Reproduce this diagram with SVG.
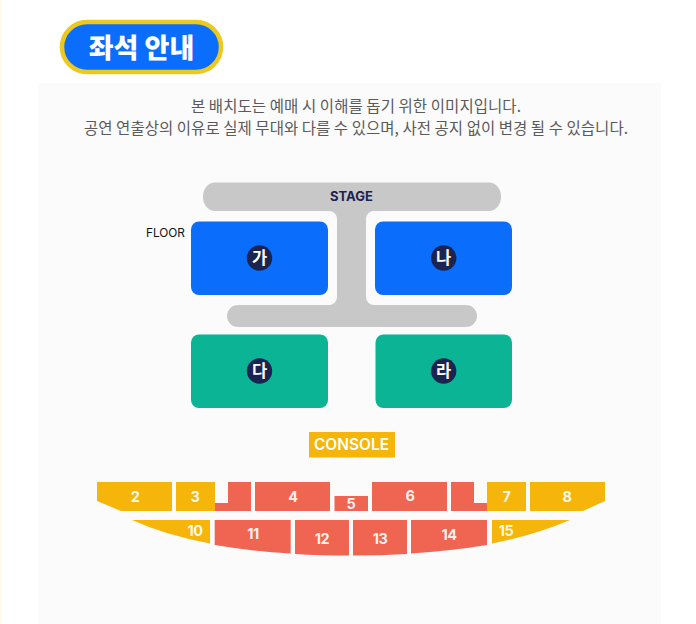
<svg xmlns="http://www.w3.org/2000/svg" width="696" height="624" viewBox="0 0 696 624">
<style>
.k{font-family:"Noto Sans CJK KR","Noto Sans",sans-serif}
.l{font-family:"Inter","Noto Sans",sans-serif}
.note{font-size:15.500px;fill:#5a5a5a;text-anchor:middle}
.b{fill:#0a6dfb}.g{fill:#0cb496}.y{fill:#f5b50a}.r{fill:#ef6551}
.c{fill:#1b2450}
.cl{font-size:16.500px;font-weight:700;fill:#fff;text-anchor:middle}
.n{font-size:14.500px;font-weight:700;fill:#fff;text-anchor:middle;letter-spacing:-.5px;fill-opacity:.93}
</style>
<rect width="696" height="624" fill="#fff"/>
<rect x="0" y="0" width="2" height="624" fill="#fffbe6"/>
<rect x="38" y="83" width="623" height="541" fill="#fbfbfb"/>
<g id="title">
<rect x="62" y="22" width="159" height="50" rx="25" fill="#0a6dfb" stroke="#edc81f" stroke-width="4.500"/>
<text x="141.500" y="57.500" class="k" font-size="27" font-weight="900" fill="#fff" text-anchor="middle">좌석 안내</text>
</g>
<g id="notice">
<text x="356" y="111.500" class="k note" textLength="330" lengthAdjust="spacing">본 배치도는 예매 시 이해를 돕기 위한 이미지입니다.</text>
<text x="356" y="133.500" class="k note" textLength="544" lengthAdjust="spacing">공연 연출상의 이유로 실제 무대와 다를 수 있으며, 사전 공지 없이 변경 될 수 있습니다.</text>
</g>
<g id="stage">
<path fill="#c9c8c9" d="M215 182.500H489a12 14 0 0 1 12 14a12 14 0 0 1-12 14.500H374a8 8 0 0 0-8 8V297a8 8 0 0 0 8 8H466a11 11 0 0 1 0 22H238a11 11 0 0 1 0-22H329a8 8 0 0 0 8-8V219a8 8 0 0 0-8-8H215a12 14 0 0 1-12-14.500a12 14 0 0 1 12-14z"/>
<text x="351.500" y="201" class="l" font-size="13" font-weight="700" fill="#1b2450" text-anchor="middle">STAGE</text>
</g>
<text id="floor-label" x="165.500" y="237" class="l" font-size="11.800" font-weight="400" fill="#111" text-anchor="middle">FLOOR</text>
<g id="ga"><rect class="b" x="191" y="221.500" width="137" height="73.500" rx="8"/><circle class="c" cx="259.500" cy="258" r="12.700"/><text class="k cl" x="259.500" y="264">가</text></g>
<g id="na"><rect class="b" x="375" y="221.500" width="137" height="73.500" rx="8"/><circle class="c" cx="443.700" cy="258" r="12.700"/><text class="k cl" x="443.700" y="264">나</text></g>
<g id="da"><rect class="g" x="191" y="334.500" width="137" height="73.500" rx="8"/><circle class="c" cx="259.500" cy="371" r="12.700"/><text class="k cl" x="259.500" y="377">다</text></g>
<g id="ra"><rect class="g" x="375.500" y="334.500" width="136.500" height="73.500" rx="8"/><circle class="c" cx="443.700" cy="371" r="12.700"/><text class="k cl" x="443.700" y="377">라</text></g>
<g id="console"><rect class="y" x="309" y="432" width="86" height="25.500"/><text class="l" x="351.500" y="450" font-size="15.500" font-weight="600" fill="#fff" text-anchor="middle">CONSOLE</text></g>
<g id="s2"><path class="y" d="M97 482H172V511H121L97 501z"/><text class="l n" x="135" y="502">2</text></g>
<g id="s3"><rect class="y" x="176" y="482" width="39" height="29"/><text class="l n" x="195" y="502">3</text></g>
<path id="sL" class="r" d="M228 482H251V511H215V503H228z"/>
<g id="s4"><rect class="r" x="255" y="482" width="75" height="29"/><text class="l n" x="293" y="502">4</text></g>
<g id="s5"><rect class="r" x="334.500" y="496" width="33.500" height="15"/><text class="l n" x="351" y="509">5</text></g>
<g id="s6"><rect class="r" x="372" y="482" width="75" height="29"/><text class="l n" x="410" y="501">6</text></g>
<path id="sR" class="r" d="M451 482H474V503H487V511H451z"/>
<g id="s7"><rect class="y" x="487" y="482" width="39" height="29"/><text class="l n" x="506.500" y="502">7</text></g>
<g id="s8"><path class="y" d="M530 482H605V501L583 511H530z"/><text class="l n" x="567" y="502">8</text></g>
<g id="s10"><path class="y" d="M132 520H210V543.500Q165 535 132 520z"/><text class="l n" x="195" y="536">10</text></g>
<g id="s11"><path class="r" d="M214.700 520H290.700V553.500Q250 551 214.700 545z"/><text class="l n" x="253" y="539">11</text></g>
<g id="s12"><path class="r" d="M295 520H349V555.500Q320 555.500 295 554z"/><text class="l n" x="322" y="544">12</text></g>
<g id="s13"><path class="r" d="M353 520H407V554Q380 555.500 353 555.500z"/><text class="l n" x="380" y="544">13</text></g>
<g id="s14"><path class="r" d="M411 520H487V545Q450 551 411 553.500z"/><text class="l n" x="449" y="540">14</text></g>
<g id="s15"><path class="y" d="M492 520H570Q535 535 492 543.500z"/><text class="l n" x="506" y="536">15</text></g>
</svg>
